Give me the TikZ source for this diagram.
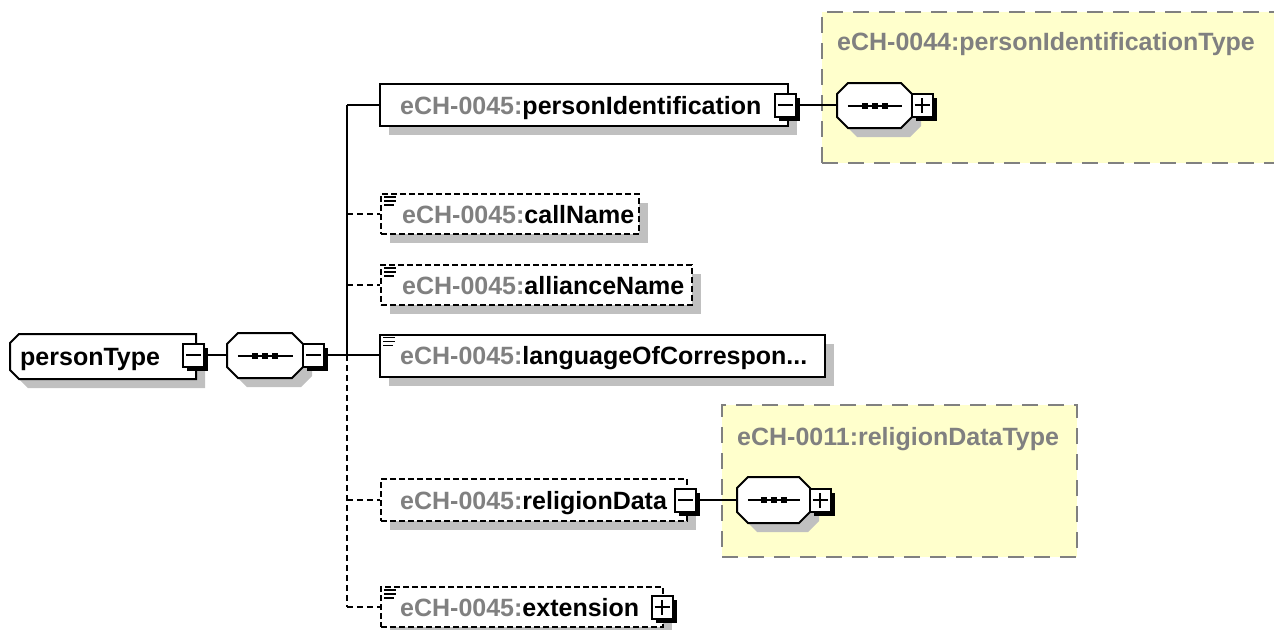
\documentclass[tikz,border=0pt]{standalone}
\usepackage{fontspec}
\setmainfont{Liberation Sans}
\usetikzlibrary{shadows}
\definecolor{shgray}{HTML}{C0C0C0}
\definecolor{pfx}{HTML}{808080}
\definecolor{yel}{HTML}{FFFFCC}
\tikzset{
  shad/.style={drop shadow={shadow xshift=9pt,shadow yshift=-9pt,fill=shgray,opacity=1}},
  elem/.style={draw=black,fill=white,line width=2pt,rectangle,inner sep=0pt,shad},
  optelem/.style={elem,dash pattern=on 6pt off 3pt},
  pmbox/.style={draw=black,fill=white,line width=2pt,rectangle,minimum width=21pt,minimum height=23pt,inner sep=0pt,
     drop shadow={shadow xshift=4pt,shadow yshift=-4pt,fill=black,opacity=1}},
  pmline/.style={line width=2pt},
  typebox/.style={rectangle,fill=yel,draw=pfx,line width=1.5pt,dash pattern=on 16pt off 10pt,inner sep=0pt},
  txt/.style={font=\fontsize{25}{30}\selectfont\bfseries,inner sep=0pt,anchor=base west},
  conn/.style={line width=2pt},
  dconn/.style={line width=2pt,dash pattern=on 6pt off 4pt},
  icon/.style={line width=1.5pt},
  octline/.style={draw=black,fill=white,line width=2pt}
}
\newcommand{\pfxt}{\textcolor{pfx}{eCH-0045:}}
% #1 name, #2 left x, #3 top y, #4 width, #5 height, #6 left chamfer, #7 right chamfer
\newcommand{\octo}[7]{%
  \pgfmathsetmacro\oR{#2+#4}\pgfmathsetmacro\oB{#3+#5}%
  \pgfmathsetmacro\oLc{#2+#6}\pgfmathsetmacro\oRc{#2+#4-#7}%
  \pgfmathsetmacro\oTl{#3+#6}\pgfmathsetmacro\oBl{#3+#5-#6}%
  \pgfmathsetmacro\oTr{#3+#7}\pgfmathsetmacro\oBr{#3+#5-#7}%
  \pgfmathsetmacro\oCx{#2+#4/2}\pgfmathsetmacro\oCy{#3+#5/2}%
  \fill[shgray,shift={(9pt,-9pt)}] (\oLc,#3) -- (\oRc,#3) -- (\oR,\oTr) -- (\oR,\oBr) -- (\oRc,\oB) -- (\oLc,\oB) -- (#2,\oBl) -- (#2,\oTl) -- cycle;
  \path[octline] (\oLc,#3) -- (\oRc,#3) -- (\oR,\oTr) -- (\oR,\oBr) -- (\oRc,\oB) -- (\oLc,\oB) -- (#2,\oBl) -- (#2,\oTl) -- cycle;
  \node[inner sep=0pt,minimum width=#4pt,minimum height=#5pt] (#1) at (\oCx,\oCy) {};%
}
\newcommand{\seqglyph}[1]{%
  \draw[line width=2pt] ([xshift=11pt]#1.west) -- ([xshift=-10pt]#1.east);
  \foreach \d in {-10,0,10}{\fill ([xshift=\d pt]#1.center) +(-3,-3) rectangle +(3,3);}%
}
\newcommand{\minussign}[1]{\draw[pmline] ([xshift=4pt]#1.west) -- ([xshift=-4pt]#1.east);}
\newcommand{\plussign}[1]{\minussign{#1}\draw[pmline] ([yshift=5pt]#1.south) -- ([yshift=-5pt]#1.north);}
\begin{document}
\begin{tikzpicture}[x=1pt,y=-1pt]
\clip (0,0) rectangle (1274,629);
\fill[white] (0,0) rectangle (1274,629);

% type boxes
\node[typebox,minimum width=468pt,minimum height=151pt] (ty1) at (1056,87.5) {};
\node[typebox,minimum width=355pt,minimum height=152pt] (ty2) at (899.5,481) {};
\node[txt,text=pfx] (ty1t) at (837,50) {eCH-0044:personIdentificationType};
\node[txt,text=pfx] (ty2t) at (737,445) {eCH-0011:religionDataType};

% root
\octo{pt}{10}{334}{186}{45}{9}{0}
\node[txt] (ptt) at (20,365) {personType};
\node[pmbox] (ptm) at (193.5,355) {};
\minussign{ptm}

% sequence 1
\octo{s1}{227}{333}{76}{45}{11}{11}
\seqglyph{s1}
\node[pmbox] (s1m) at (313.5,355) {};
\minussign{s1m}

% children
\node[elem,minimum width=408pt,minimum height=42pt] (pid) at (584,105) {};
\node[txt] (pidt) at (400,114) {\pfxt personIdentification};
\node[pmbox] (pidm) at (785.5,105) {};
\minussign{pidm}

\node[optelem,minimum width=258pt,minimum height=40pt] (cn) at (510,214) {};
\node[txt] (cnt) at (402,223) {\pfxt callName};

\node[optelem,minimum width=311pt,minimum height=40pt] (an) at (536.5,285) {};
\node[txt] (ant) at (402,294) {\pfxt allianceName};

\node[elem,minimum width=445pt,minimum height=42pt] (lc) at (602.5,355.5) {};
\node[txt] (lct) at (400,364.5) {\pfxt languageOfCorrespon...};

\node[optelem,minimum width=306pt,minimum height=42pt] (rd) at (534,500) {};
\node[txt] (rdt) at (400,509) {\pfxt religionData};
\node[pmbox] (rdm) at (685.5,500) {};
\minussign{rdm}

\node[optelem,minimum width=282pt,minimum height=40pt] (ex) at (522,607) {};
\node[txt] (ext) at (400,616) {\pfxt extension};
\node[pmbox] (exm) at (662,607) {};
\plussign{exm}

% icons (simple content)
\foreach \n in {cn,an,lc,ex}{
  \draw[icon] ([shift={(4pt,-4pt)}]\n.north west) -- ++(12pt,0);
  \draw[icon] ([shift={(4pt,-8pt)}]\n.north west) -- ++(12pt,0);
  \draw[icon] ([shift={(4pt,-12pt)}]\n.north west) -- ++(10pt,0);
}

% inner sequences
\octo{s2}{837}{83}{75}{45}{11}{11}
\seqglyph{s2}
\node[pmbox] (s2p) at (922,105) {};
\plussign{s2p}

\octo{s3}{737}{477}{73}{46}{11}{11}
\seqglyph{s3}
\node[pmbox] (s3p) at (820,500) {};
\plussign{s3p}

% connectors
\coordinate (jt) at (347,105);
\coordinate (jm) at (347,355);
\coordinate (jb) at (347,607);
\coordinate (jc) at (347,214);
\coordinate (ja) at (347,285);
\coordinate (jr) at (347,500);
\draw[conn] (ptm.east) -- (s1.west |- ptm.east);
\draw[conn] (s1m.east) -- (jm);
\draw[conn] (jt) -- (jm);
\draw[dconn] (jm) -- (jb);
\draw[conn] (jt) -- (pid.west);
\draw[dconn] (jc) -- (cn.west);
\draw[dconn] (ja) -- (an.west);
\draw[conn] (jm) -- (lc.west |- jm);
\draw[dconn] (jr) -- (rd.west);
\draw[dconn] (jb) -- (ex.west |- jb);
\draw[conn] (pidm.east) -- (s2.west |- pidm.east);
\draw[conn] (rdm.east) -- (s3.west |- rdm.east);
\end{tikzpicture}
\end{document}
